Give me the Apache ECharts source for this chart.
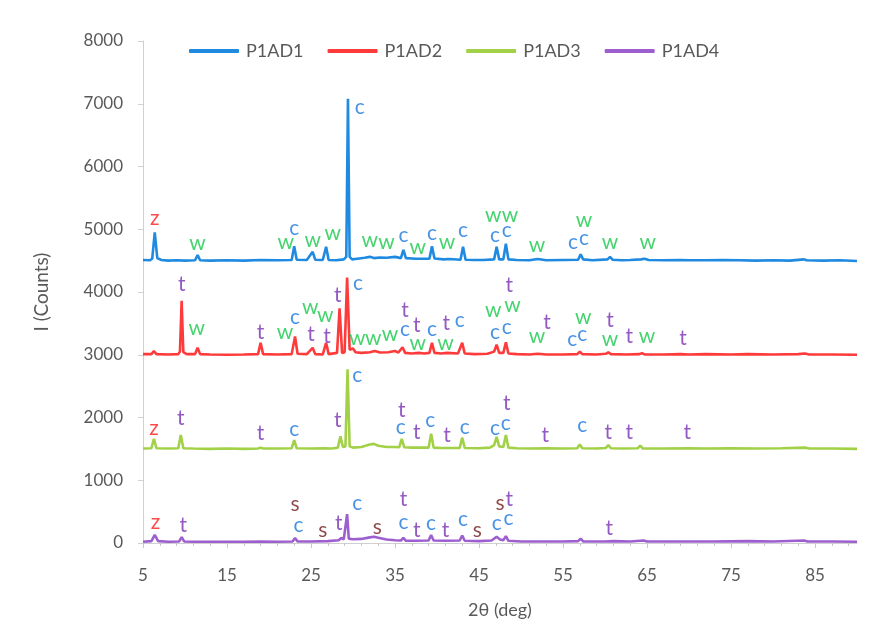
<!DOCTYPE html>
<html>
<head>
<meta charset="utf-8">
<title>XRD patterns P1AD1–P1AD4</title>
<script src="https://cdn.jsdelivr.net/npm/echarts@6/dist/echarts.min.js"></script>
<style>
  html, body { margin: 0; padding: 0; background: #ffffff; }
  #chart { width: 876px; height: 643px; }
</style>
</head>
<body>
<div id="chart"></div>
<script>
// Diffraction patterns, [2θ (deg), intensity (counts)], each pattern stacked on its own offset
const seriesNames = ['P1AD1', 'P1AD2', 'P1AD3', 'P1AD4'];

const p1ad1 = [
  [5,4510],[5.8,4505],[6.1,4530],[6.4,4950],[6.7,4540],[7.2,4510],[8,4500],[9,4505],[10,4500],
  [11.2,4505],[11.5,4590],[11.8,4505],[13,4500],[15,4505],[17,4500],[19,4510],[21,4505],
  [22.7,4510],[23.0,4730],[23.3,4515],[24.5,4510],[25.2,4640],[25.5,4515],[26.4,4510],
  [26.8,4720],[27.1,4510],[28,4505],[28.9,4520],[29.2,4560],[29.4,7080],[29.6,4560],
  [29.9,4520],[30.5,4530],[31.4,4545],[32.0,4560],[32.5,4540],[33.2,4550],[34.0,4545],
  [35.0,4560],[35.7,4540],[36.0,4670],[36.3,4540],[37.5,4530],[38.2,4530],[39.1,4530],
  [39.4,4730],[39.7,4535],[40.8,4520],[41.5,4525],[42.8,4515],[43.1,4720],[43.4,4515],
  [44.5,4510],[45.5,4510],[46.8,4520],[47.1,4720],[47.4,4520],[47.9,4520],[48.2,4770],
  [48.5,4520],[49.5,4510],[51,4505],[52.0,4525],[53,4505],[55,4510],[56.8,4515],[57.1,4600],
  [57.4,4520],[58.5,4505],[60.3,4520],[60.6,4560],[60.9,4515],[62,4505],[63,4510],[64.3,4520],
  [64.7,4530],[65.2,4510],[67,4505],[69,4510],[70,4505],[72,4505],[74,4510],[76,4505],
  [78,4500],[80,4505],[82,4500],[83.7,4520],[84,4505],[86,4500],[88,4505],[90,4495]
];

const p1ad2 = [
  [5,3010],[6.0,3010],[6.3,3060],[6.6,3010],[8,3005],[9.2,3010],[9.4,3050],[9.6,3860],
  [9.8,3040],[10.2,3010],[11.2,3010],[11.5,3110],[11.8,3010],[13,3005],[15,3000],[17,3005],
  [18.7,3010],[19.0,3190],[19.3,3010],[21,3005],[22.7,3010],[23.1,3290],[23.4,3015],
  [24.5,3010],[25.2,3110],[25.5,3010],[26.4,3005],[26.8,3190],[27.1,3010],[28.1,3030],
  [28.4,3740],[28.7,3030],[29.0,3040],[29.3,4230],[29.6,3080],[30.0,3100],[30.3,3040],
  [31.0,3030],[32.0,3040],[32.6,3060],[33.2,3035],[34.2,3040],[35.0,3060],[35.4,3035],
  [35.9,3120],[36.2,3030],[37.0,3020],[37.8,3030],[38.5,3020],[39.1,3030],[39.4,3190],
  [39.7,3030],[40.5,3020],[41.2,3030],[42.5,3020],[43.0,3190],[43.3,3020],[44.5,3010],
  [46.0,3015],[46.8,3050],[47.1,3160],[47.4,3030],[47.9,3030],[48.2,3200],[48.5,3020],
  [49.5,3010],[51,3005],[52,3015],[53,3005],[55,3005],[56.7,3010],[57.0,3050],[57.3,3010],
  [59,3005],[60.1,3015],[60.4,3040],[60.7,3010],[62.5,3005],[64.1,3010],[64.4,3025],
  [64.7,3005],[67,3005],[69,3010],[70,3005],[72,3010],[75,3005],[77,3010],[80,3005],
  [83,3010],[83.8,3020],[84.3,3005],[87,3005],[90,3000]
];

const p1ad3 = [
  [5,1505],[6.0,1510],[6.3,1660],[6.6,1510],[8,1505],[9.2,1510],[9.5,1720],[9.8,1510],
  [11,1505],[13,1500],[15,1505],[17,1500],[18.7,1505],[19.0,1520],[19.3,1505],[21,1505],
  [22.7,1510],[23.0,1640],[23.3,1510],[25,1505],[26.5,1510],[27.5,1505],[28.2,1520],
  [28.5,1700],[28.8,1530],[29.1,1540],[29.35,2770],[29.6,1540],[30.0,1520],[31.0,1530],
  [32.0,1570],[32.5,1580],[33.0,1550],[34.0,1530],[35.0,1530],[35.5,1525],[35.8,1660],
  [36.1,1525],[37.0,1520],[38,1520],[39.0,1520],[39.3,1740],[39.6,1520],[40.5,1515],
  [42,1515],[42.7,1515],[43.0,1680],[43.3,1515],[45,1510],[46.3,1520],[46.8,1560],
  [47.1,1690],[47.4,1540],[47.9,1530],[48.2,1720],[48.5,1520],[49.5,1510],[51,1505],
  [53,1510],[55,1505],[56.7,1510],[57.0,1570],[57.3,1510],[59,1505],[60.1,1515],[60.4,1560],
  [60.7,1510],[62,1505],[63.9,1510],[64.2,1550],[64.5,1505],[67,1505],[70,1510],[72,1505],
  [75,1510],[78,1505],[81,1510],[83.8,1520],[84.3,1505],[87,1505],[90,1500]
];

const p1ad4 = [
  [5,20],[6.0,30],[6.4,130],[6.8,30],[8,20],[9.3,25],[9.6,95],[9.9,25],[11,20],[13,20],
  [15,20],[17,20],[19,25],[21,20],[22.8,25],[23.1,80],[23.4,25],[25,25],[27,30],[28.3,45],
  [28.6,80],[28.9,60],[29.1,60],[29.3,460],[29.5,70],[30.0,60],[31.0,65],[32.0,90],
  [32.5,100],[33.0,85],[34.0,55],[35.0,45],[35.7,40],[36.0,80],[36.3,35],[37.5,35],
  [39.0,40],[39.3,125],[39.6,40],[41,35],[42.7,40],[43.0,120],[43.3,35],[45,30],[46.5,40],
  [47.1,100],[47.5,55],[47.9,45],[48.2,110],[48.5,35],[50,25],[53,25],[55,25],[56.8,30],
  [57.1,70],[57.4,25],[60,25],[61,30],[63,25],[64.6,40],[65,25],[70,25],[73,25],[77,30],
  [80,25],[83.7,40],[84.1,25],[87,25],[90,20]
];

// Phase annotations, [2θ, counts] where each letter sits
const zMarks = [[6.4,5180],[6.3,1830],[6.5,335]];
const wMarks = [
  [11.5,4780],[22.0,4800],[25.2,4830],[27.6,4940],[32.0,4830],[34.0,4800],[37.7,4720],
  [41.2,4800],[46.7,5230],[48.7,5230],[51.9,4750],[57.5,5150],[60.6,4800],[65.1,4800],
  [11.4,3430],[21.9,3360],[24.9,3760],[26.7,3630],[30.5,3270],[32.4,3270],[34.4,3320],
  [37.7,3190],[41.0,3190],[46.7,3710],[49.0,3790],[51.9,3290],[57.4,3590],[60.6,3240],
  [65.0,3290]
];
const cMarks = [
  [23.0,5020],[30.8,6950],[36.0,4910],[39.4,4940],[43.1,4990],[46.9,4910],[48.3,4990],
  [56.2,4800],[57.5,4860],
  [23.1,3590],[30.6,4140],[36.2,3400],[39.4,3400],[42.7,3550],[46.9,3360],[48.3,3440],
  [56.1,3240],[57.3,3320],
  [23.0,1820],[30.5,2680],[35.7,1850],[39.2,1960],[43.3,1850],[46.9,1830],[48.2,1910],
  [57.3,1880],
  [23.5,290],[30.5,640],[36.0,335],[39.3,320],[43.1,380],[47.1,320],[48.5,400]
];
const tMarks = [
  [9.6,4130],[19.0,3360],[25.0,3320],[26.9,3290],[28.2,3950],[36.2,3710],[37.6,3470],
  [41.1,3510],[48.6,4110],[53.1,3520],[60.6,3550],[62.9,3290],[69.3,3270],
  [9.5,1990],[19.0,1750],[28.2,1960],[35.8,2120],[37.6,1770],[41.2,1720],[48.3,2230],
  [52.9,1720],[60.4,1770],[62.9,1770],[69.8,1770],
  [9.8,290],[28.3,320],[36.0,690],[37.6,210],[41.0,210],[48.6,690],[60.5,240]
];
const sMarks = [[23.1,610],[26.4,210],[32.9,255],[44.8,210],[47.5,640]];

// Axis ticks
const xLabelValues = [5, 15, 25, 35, 45, 55, 65, 75, 85];
const xMinorValues = [7, 9, 11, 13, 17, 19, 21, 23, 27, 29, 31, 33, 37, 39, 41, 43, 47, 49, 51, 53,
  57, 59, 61, 63, 67, 69, 71, 73, 77, 79, 81, 83, 87, 89];

const lineColors = ['#1f8ae0', '#ff3a3a', '#a2d147', '#9d5fcf'];
const markColors = { z: '#ff1a1a', w: '#16c84a', c: '#1a78e0', t: '#7a2fb5', s: '#701c1c' };
const FONT = 'Lato, "Open Sans", sans-serif';
const TEXT = '#595959';

const chart = echarts.init(document.getElementById('chart'), null, { renderer: 'canvas' });

const lineSeries = [p1ad1, p1ad2, p1ad3, p1ad4].map((d, i) => ({
  name: seriesNames[i],
  type: 'line',
  data: d,
  showSymbol: false,
  symbol: 'none',
  xAxisIndex: 0,
  yAxisIndex: 0,
  lineStyle: { width: 2.6, color: lineColors[i] },
  itemStyle: { color: lineColors[i] },
  z: 3 + (3 - i),
  silent: true,
  animation: false
}));

function markSeries(letter, data) {
  return {
    name: 'mark-' + letter,
    type: 'scatter',
    data: data,
    symbolSize: 0,
    xAxisIndex: 0,
    yAxisIndex: 0,
    silent: true,
    animation: false,
    z: 10,
    label: {
      show: true,
      position: 'inside',
      formatter: letter,
      color: markColors[letter],
      fontFamily: FONT,
      fontSize: 21,
      align: 'center',
      verticalAlign: 'middle'
    }
  };
}

const option = {
  backgroundColor: '#ffffff',
  animation: false,
  grid: { left: 143, right: 19, top: 41, bottom: 100, containLabel: false },
  legend: {
    data: seriesNames,
    top: 37,
    left: 184,
    itemWidth: 50,
    itemHeight: 4,
    itemGap: 24,
    icon: 'roundRect',
    textStyle: { fontFamily: FONT, fontSize: 18, color: TEXT, padding: [0, 0, 0, 2] }
  },
  xAxis: [
    {
      type: 'value',
      min: 5,
      max: 90,
      name: '2θ (deg)',
      nameLocation: 'middle',
      nameGap: 58,
      nameTextStyle: { fontFamily: FONT, fontSize: 18, color: TEXT },
      axisLine: { show: true, onZero: false, lineStyle: { color: '#d0d0d0', width: 1 } },
      axisTick: { show: true, customValues: xLabelValues, length: 5, lineStyle: { color: '#c8c8c8' } },
      axisLabel: { customValues: xLabelValues, margin: 24, fontFamily: FONT, fontSize: 17, color: TEXT },
      splitLine: { show: false }
    },
    {
      type: 'value',
      min: 5,
      max: 90,
      position: 'bottom',
      axisLine: { show: false },
      axisTick: { show: true, customValues: xMinorValues, length: 3, lineStyle: { color: '#c8c8c8' } },
      axisLabel: { show: false },
      splitLine: { show: false }
    }
  ],
  yAxis: {
    type: 'value',
    min: 0,
    max: 8000,
    interval: 1000,
    name: 'I (Counts)',
    nameLocation: 'middle',
    nameGap: 92,
    nameRotate: 90,
    nameTextStyle: { fontFamily: FONT, fontSize: 19, color: TEXT },
    axisLine: { show: true, lineStyle: { color: '#d0d0d0', width: 1 } },
    axisTick: { show: true, length: 5, lineStyle: { color: '#d0d0d0' } },
    axisLabel: {
      margin: 20,
      fontFamily: FONT,
      fontSize: 17,
      color: TEXT,
      formatter: (v) => String(v)
    },
    splitLine: { show: false }
  },
  series: lineSeries.concat([
    markSeries('z', zMarks),
    markSeries('w', wMarks),
    markSeries('c', cMarks),
    markSeries('t', tMarks),
    markSeries('s', sMarks)
  ])
};

chart.setOption(option);
</script>
</body>
</html>
